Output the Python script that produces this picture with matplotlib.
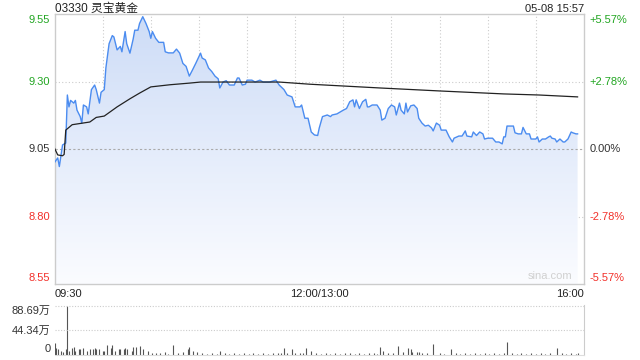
import numpy as np
import matplotlib
matplotlib.use('Agg')
import matplotlib.pyplot as plt
from matplotlib.colors import LinearSegmentedColormap

plt.rcParams['font.family'] = ['Liberation Sans', 'Noto Sans CJK SC', 'DejaVu Sans']

title = '03330 灵宝黄金'
stamp = '05-08 15:57'

# trading minutes since 09:30 (lunch break removed), price
price_t = [0, 2, 3, 5, 7, 8, 9, 10, 12, 13, 14, 16, 17, 18, 20, 21, 23, 25, 26, 28,
           29, 31, 32, 34, 36, 37, 39, 41, 42, 44, 45, 47, 49, 50, 52, 53, 55, 57, 59, 60,
           61, 63, 65, 68, 69, 71, 74, 76, 78, 80, 82, 84, 86, 88, 91, 92, 94, 96, 98, 100,
           102, 103, 105, 107, 109, 112, 114, 115, 117, 119, 120, 123, 125, 128, 130, 134, 138, 140, 143, 145,
           148, 150, 153, 154, 156, 158, 160, 162, 164, 165, 167, 170, 172, 173, 176, 178, 180, 182, 184, 186,
           187, 188, 190, 192, 194, 195, 196, 198, 201, 203, 204, 206, 208, 210, 212, 213, 215, 216, 218, 219,
           220, 222, 224, 226, 227, 229, 231, 233, 235, 236, 238, 240, 241, 244, 246, 248, 249, 252, 254, 256,
           257, 260, 261, 263, 265, 267, 268, 270, 273, 275, 277, 279, 280, 281, 282, 285, 286, 287, 289, 291,
           292, 294, 296, 297, 300, 301, 302, 304, 306, 308, 309, 310, 312, 313, 315, 317, 318, 320, 322, 323,
           325, 326]
price = [9.00, 9.017, 8.985, 9.065, 9.072, 9.25, 9.206, 9.23, 9.22, 9.23, 9.194, 9.17, 9.146, 9.213, 9.206, 9.18, 9.27, 9.287, 9.27, 9.22,
         9.26, 9.27, 9.35, 9.44, 9.47, 9.465, 9.417, 9.43, 9.41, 9.485, 9.44, 9.405, 9.457, 9.49, 9.49, 9.515, 9.54, 9.515, 9.485, 9.46,
         9.485, 9.46, 9.445, 9.445, 9.41, 9.406, 9.406, 9.42, 9.405, 9.367, 9.356, 9.32, 9.343, 9.367, 9.405, 9.387, 9.38, 9.35, 9.337, 9.32,
         9.31, 9.276, 9.298, 9.303, 9.287, 9.287, 9.313, 9.313, 9.287, 9.29, 9.305, 9.305, 9.298, 9.305, 9.298, 9.298, 9.305, 9.287, 9.27, 9.25,
         9.243, 9.206, 9.206, 9.213, 9.164, 9.164, 9.113, 9.102, 9.10, 9.128, 9.17, 9.176, 9.17, 9.176, 9.18, 9.187, 9.194, 9.20, 9.225, 9.232,
         9.206, 9.232, 9.20, 9.225, 9.234, 9.206, 9.206, 9.213, 9.213, 9.194, 9.157, 9.164, 9.20, 9.213, 9.206, 9.176, 9.22, 9.194, 9.18, 9.22,
         9.187, 9.21, 9.213, 9.20, 9.164, 9.146, 9.135, 9.138, 9.128, 9.117, 9.146, 9.138, 9.12, 9.12, 9.095, 9.076, 9.09, 9.098, 9.098, 9.117,
         9.098, 9.095, 9.113, 9.10, 9.113, 9.106, 9.087, 9.09, 9.09, 9.076, 9.076, 9.069, 9.095, 9.095, 9.135, 9.135, 9.135, 9.11, 9.106, 9.106,
         9.13, 9.106, 9.106, 9.087, 9.087, 9.095, 9.076, 9.087, 9.087, 9.095, 9.098, 9.09, 9.087, 9.076, 9.087, 9.076, 9.076, 9.087, 9.113, 9.11,
         9.106, 9.106]

avg_t = [0, 2, 5, 6, 7, 11, 22, 26, 31, 39, 47, 53, 60, 72, 84, 91, 140, 159, 181, 203, 240, 280, 302, 326]
avg = [9.053, 9.028, 9.025, 9.03, 9.12, 9.14, 9.15, 9.167, 9.172, 9.206, 9.236, 9.257, 9.28, 9.288, 9.294, 9.298,
       9.298, 9.29, 9.283, 9.276, 9.265, 9.254, 9.25, 9.243]

# volume in 万 shares
vol_t = [0, 1, 2, 4, 5, 7, 8, 9, 11, 12, 13, 15, 16, 18, 20, 22, 24, 25, 26, 28, 30, 31, 33, 35, 36, 38, 40, 41,
         43, 44, 45, 48, 49, 51, 53, 55, 58, 61, 63, 66, 69, 71, 74, 77, 80, 83, 84, 86, 89, 92, 95, 98, 101,
         103, 106, 109, 112, 115, 118, 121, 124, 127, 130, 133, 136, 139, 141, 143, 145, 148, 150, 153, 155, 157,
         160, 163, 166, 169, 172, 175, 178, 181, 184, 187, 190, 193, 196, 199, 201, 203, 205, 208, 211, 214, 217,
         220, 222, 223, 226, 227, 229, 232, 236, 240, 243, 247, 250, 253, 256, 259, 262, 265, 268, 271, 274, 277,
         280, 282, 285, 288, 291, 294, 297, 300, 303, 306, 309, 313, 316, 319, 322, 325, 326]
vol = [22, 13, 10, 8, 6, 10, 88.69, 8, 13, 14, 7, 10, 10, 13, 7, 10, 11, 13, 11, 11, 8, 7, 18, 13, 18, 7, 11, 11,
       10, 13, 10, 8, 14, 14, 16, 10, 8, 4, 3, 4, 6, 2, 18, 4, 6, 10, 14, 7, 6, 3, 2, 3, 2,
       7, 3, 2, 3, 2, 3, 2, 3, 2, 3, 2, 3, 4, 3, 13, 3, 10, 3, 4, 3, 13,
       7, 3, 2, 3, 2, 3, 2, 3, 3, 2, 3, 2, 4, 3, 2, 14, 8, 4, 3, 16, 6,
       12, 10, 5, 5, 5, 4, 3, 20, 3, 2, 10, 3, 2, 3, 2, 3, 2, 3, 2, 3, 2,
       3, 24, 3, 2, 3, 2, 3, 2, 3, 2, 3, 12, 3, 2, 3, 2, 3]

price_ticks = [9.55, 9.30, 9.05, 8.80, 8.55]
pct_labels = ['+5.57%', '+2.78%', '0.00%', '-2.78%', '-5.57%']
vol_labels = ['88.69万', '44.34万', '0']

ymin, ymax = 8.55, 9.55
total = 330
green, red, dark = '#22a622', '#f2312b', '#333333'
grid_c = '#cccccc'

fig = plt.figure(figsize=(6.4, 3.6), dpi=100)
ax = fig.add_axes([0.0852, 0.2111, 0.8273, 0.75])
axv = fig.add_axes([0.0852, 0.0139, 0.8273, 0.1389])

# gradient fill under price line
xs = np.array(price_t, dtype=float)
ys = np.array(price)
poly = ax.fill_between(xs, ys, ymin, color='none', lw=0)
cmap = LinearSegmentedColormap.from_list('bl', ['#fbfcff', '#cddcf7'])
img = ax.imshow(np.linspace(0, 1, 256).reshape(-1, 1), cmap=cmap, aspect='auto',
                extent=[0, total, ymin, ymax], origin='lower', zorder=1)
img.set_clip_path(poly.get_paths()[0], transform=ax.transData)

for m in range(30, total, 30):
    ax.axvline(m, color=grid_c, lw=0.8, ls=(0, (1, 2)), zorder=0)
for p in [9.30, 8.80]:
    ax.axhline(p, color=grid_c, lw=0.8, ls=(0, (1, 2)), zorder=0)
ax.axhline(9.05, color='#aaaaaa', lw=0.8, ls=(0, (2, 2)), zorder=2)

ax.plot(xs, ys, color='#4b8cf0', lw=1.0, zorder=3)
ax.plot(avg_t, avg, color='#222222', lw=0.9, zorder=3)

ax.set_xlim(0, total)
ax.set_ylim(ymin, ymax)
ax.set_xticks([])
ax.set_yticks([])
for s in ax.spines.values():
    s.set_color('#cccccc')
    s.set_linewidth(1)

# price labels left, percent labels right
lab_cols = [green, green, dark, red, red]
for p, txt, c in zip(price_ticks, pct_labels, lab_cols):
    yy = p
    if p == ymax:
        yy = p - 0.022
    if p == ymin:
        yy = p + 0.022
    ax.text(-0.008, yy, f'{p:.2f}', transform=ax.get_yaxis_transform(), ha='right', va='center',
            color=c, fontsize=8)
    ax.text(1.011, yy, txt, transform=ax.get_yaxis_transform(), ha='left', va='center',
            color=c, fontsize=8)

ax.text(0, 1.008, title, transform=ax.transAxes, ha='left', va='baseline', fontsize=8.5, color='#222222')
ax.text(1, 1.008, stamp, transform=ax.transAxes, ha='right', va='baseline', fontsize=8, color='#222222')
ax.text(0, -0.02, '09:30', transform=ax.transAxes, ha='left', va='top', fontsize=8, color='#222222')
ax.text(0.5, -0.02, '12:00/13:00', transform=ax.transAxes, ha='center', va='top', fontsize=8, color='#222222')
ax.text(1, -0.02, '16:00', transform=ax.transAxes, ha='right', va='top', fontsize=8, color='#222222')
ax.text(0.978, 0.01, 'sina.com', transform=ax.transAxes, ha='right', va='bottom', fontsize=8, color='#d0d0d0')

# volume panel
vmax = max(vol)
axv.vlines(vol_t, 0, vol, color='#555555', lw=0.8)
axv.set_xlim(0, total)
axv.set_ylim(0, vmax * 1.02)
axv.axhline(vmax, color=grid_c, lw=0.8, ls=(0, (1, 1.5)))
axv.axhline(vmax / 2, color=grid_c, lw=0.8, ls=(0, (1, 1.5)))
axv.set_xticks([])
axv.set_yticks([])
for k in ['left', 'top']:
    axv.spines[k].set_visible(False)
axv.spines['right'].set_color('#cccccc')
axv.spines['bottom'].set_color('#dddddd')
vt = axv.get_yaxis_transform()
axv.text(-0.008, vmax, vol_labels[0], transform=vt, ha='right', va='top', fontsize=8, color=dark)
axv.text(-0.008, vmax / 2, vol_labels[1], transform=vt, ha='right', va='center', fontsize=8, color=dark)
axv.text(-0.008, 2, vol_labels[2], transform=vt, ha='right', va='bottom', fontsize=8, color=dark)

fig.savefig('out.png', dpi=100)
